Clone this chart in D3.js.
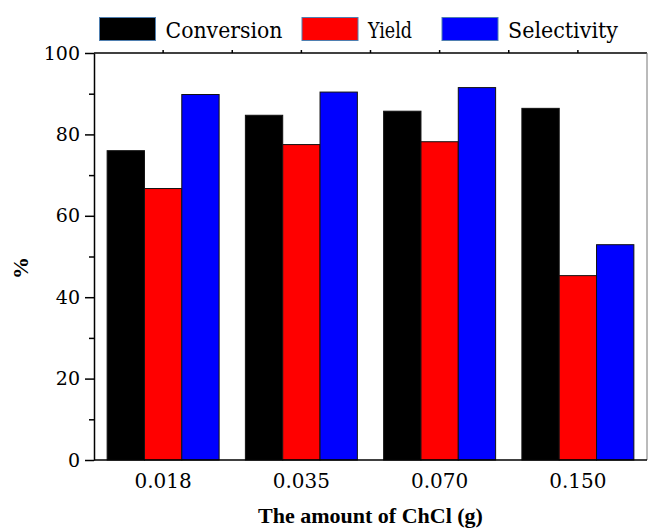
<!DOCTYPE html>
<meta charset="utf-8">
<style>
html, body { margin: 0; padding: 0; background: #fff; }
svg { display: block; }
.bar { stroke: #111; stroke-width: 1px; }
.axis path, .axis line { stroke: #000; stroke-width: 1.5px; }
</style>
<svg id="chart"></svg>
<script src="https://d3js.org/d3.v7.min.js"></script>
<script>

var categories = ['0.018', '0.035', '0.070', '0.150'];
var seriesNames = ['Conversion', 'Yield', 'Selectivity'];
var seriesColors = ['#000000', '#ff0000', '#0000ff'];
var conversion = [76.0, 84.7, 85.7, 86.4];
var yieldVals = [66.7, 77.5, 78.2, 45.3];
var selectivity = [89.8, 90.4, 91.5, 52.9];
var yTicks = [0, 20, 40, 60, 80, 100];
var yMinorTicks = [10, 30, 50, 70, 90];

var seriesValues = [conversion, yieldVals, selectivity];

var serif = 'DejaVu Serif';
var width = 648, height = 531;
var margin = {left: 94, right: 1, top: 53, bottom: 71};

var svg = d3.select('#chart')
  .attr('width', width)
  .attr('height', height);

var x = d3.scaleBand()
  .domain(categories)
  .range([margin.left, width - margin.right])
  .paddingInner(0.19)
  .paddingOuter(0.095);

var xSub = d3.scaleBand()
  .domain(seriesNames)
  .range([0, x.bandwidth()]);

var y = d3.scaleLinear()
  .domain([0, 100])
  .range([height - margin.bottom, margin.top]);

// bars
var groups = svg.append('g')
  .selectAll('g')
  .data(categories)
  .enter().append('g')
  .attr('transform', function (d) { return 'translate(' + x(d) + ',0)'; });

groups.selectAll('rect')
  .data(function (d, i) {
    return seriesNames.map(function (s, j) {
      return {series: s, value: seriesValues[j][i], color: seriesColors[j]};
    });
  })
  .enter().append('rect')
  .attr('class', 'bar')
  .attr('x', function (d) { return xSub(d.series); })
  .attr('width', xSub.bandwidth())
  .attr('y', function (d) { return y(d.value); })
  .attr('height', function (d) { return y(0) - y(d.value); })
  .attr('fill', function (d) { return d.color; });

// frame: top and right
svg.append('line')
  .attr('x1', margin.left).attr('x2', width - margin.right)
  .attr('y1', y(100)).attr('y2', y(100))
  .attr('stroke', '#000').attr('stroke-width', 1.5);
svg.append('line')
  .attr('x1', width - margin.right).attr('x2', width - margin.right)
  .attr('y1', y(100)).attr('y2', y(0))
  .attr('stroke', '#777').attr('stroke-width', 1);

// small ticks along top edge at group centres and midpoints
var halfTicks = [];
categories.forEach(function (c, i) {
  halfTicks.push(x(c) + x.bandwidth() / 2);
  if (i < categories.length - 1) halfTicks.push(x(c) + x.bandwidth() / 2 + x.step() / 2);
});
svg.append('g')
  .selectAll('line')
  .data(halfTicks)
  .enter().append('line')
  .attr('x1', function (d) { return d; }).attr('x2', function (d) { return d; })
  .attr('y1', y(100)).attr('y2', y(100) - 3)
  .attr('stroke', '#000').attr('stroke-width', 1.5);

// x axis
var xAxis = svg.append('g')
  .attr('class', 'axis')
  .attr('transform', 'translate(0,' + y(0) + ')')
  .call(d3.axisBottom(x).tickSize(0).tickSizeOuter(0).tickPadding(10))
  .attr('font-family', serif)
  .attr('font-size', 20);
xAxis.select('.domain').attr('d', 'M' + margin.left + ',0H' + (width - margin.right));
xAxis.selectAll('text').attr('dy', '0.9em');

// y axis major + minor
svg.append('g')
  .attr('class', 'axis')
  .attr('transform', 'translate(' + margin.left + ',0)')
  .call(d3.axisLeft(y).tickValues(yTicks).tickSize(9).tickSizeOuter(0).tickPadding(5))
  .attr('font-family', serif)
  .attr('font-size', 19);

svg.append('g')
  .attr('class', 'axis')
  .attr('transform', 'translate(' + margin.left + ',0)')
  .call(d3.axisLeft(y).tickValues(yMinorTicks).tickSize(5).tickFormat(''))
  .select('.domain').remove();

// axis titles
svg.append('text')
  .attr('x', (margin.left + width - margin.right) / 2)
  .attr('y', 523)
  .attr('text-anchor', 'middle')
  .attr('font-family', 'Liberation Serif')
  .attr('font-size', 22)
  .attr('font-weight', 'bold')
  .text('The amount of ChCl (g)');

svg.append('text')
  .attr('transform', 'translate(28,268) rotate(-90)')
  .attr('text-anchor', 'middle')
  .attr('font-family', 'Liberation Serif')
  .attr('font-size', 22)
  .attr('font-weight', 'bold')
  .text('%');

// legend
var legendX = [99.5, 302, 442];
var legendW = [117, 44, 110];
var legend = svg.append('g')
  .selectAll('g')
  .data(seriesNames)
  .enter().append('g')
  .attr('transform', function (d, i) { return 'translate(' + legendX[i] + ',17.5)'; });

legend.append('rect')
  .attr('width', 56)
  .attr('height', 23)
  .attr('fill', function (d, i) { return seriesColors[i]; })
  .attr('stroke', '#4f7fb0')
  .attr('stroke-width', 1);

legend.append('text')
  .attr('x', 66)
  .attr('y', 20.5)
  .attr('font-family', serif)
  .attr('font-size', 22)
  .attr('textLength', function (d, i) { return legendW[i]; })
  .attr('lengthAdjust', 'spacingAndGlyphs')
  .text(function (d) { return d; });

</script>
